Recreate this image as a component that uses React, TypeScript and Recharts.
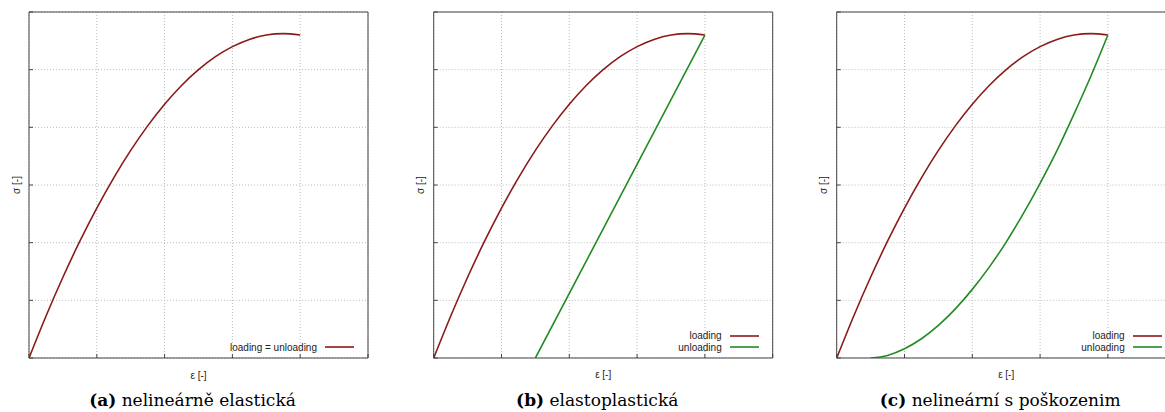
import React from "react";
import { LineChart, Line, XAxis, YAxis, CartesianGrid } from "recharts";

// ticks (gnuplot, no labels)
const xTicks = [0, 1, 2, 3, 4, 5];
const yTicks = [0, 1, 2, 3, 4, 5, 6];

// loading branch, same in all three panels
const loadStrain = [0, 0.25, 0.5, 0.75, 1, 1.25, 1.5, 1.75, 2, 2.25, 2.5, 2.75, 3, 3.25, 3.5, 3.75, 4];
const loadStress = [0, 0.725, 1.4, 2.025, 2.6, 3.125, 3.6, 4.025, 4.4, 4.725, 5.0, 5.225, 5.4, 5.525, 5.6, 5.625, 5.6];

// (b) elastoplastic unloading
const unloadStrainB = [1.5, 4];
const unloadStressB = [0, 5.6];

// (c) damage unloading
const unloadStrainC = [0.5, 0.75, 1, 1.25, 1.5, 1.75, 2, 2.25, 2.5, 2.75, 3, 3.25, 3.5, 3.75, 4];
const unloadStressC = [0, 0.045, 0.16, 0.334, 0.566, 0.851, 1.19, 1.576, 2.01, 2.5, 3.03, 3.6, 4.23, 4.89, 5.6];

const RED = "#8b1a1a";
const GREEN = "#228b22";
const AXIS = "#444";

const toPoints = (xs: number[], ys: number[]) => xs.map((e, i) => ({ e, s: ys[i] }));

const loading = toPoints(loadStrain, loadStress);
const unloadingB = toPoints(unloadStrainB, unloadStressB);
const unloadingC = toPoints(unloadStrainC, unloadStressC);

type Series = { name: string; data: { e: number; s: number }[]; color: string; curve: "monotone" | "linear" };

const PLOT_W = 337;
const PLOT_H = 344;
const TOP = 13;
const LABEL_FONT = "'Liberation Sans', Arial, sans-serif";

// tick lines only, no tick labels
const noLabel = () => <g />;

function yLabel(props: any) {
  const vb = props.viewBox || {};
  const x = vb.x - 13;
  const y = vb.y + vb.height / 2;
  return (
    <text
      x={x}
      y={y}
      transform={`rotate(-90, ${x}, ${y})`}
      textAnchor="middle"
      dominantBaseline="central"
      fontSize={10}
      fontFamily={LABEL_FONT}
      fill="#222"
    >
      σ [-]
    </text>
  );
}

function xLabel(props: any) {
  const vb = props.viewBox || {};
  return (
    <text
      x={vb.x + vb.width / 2}
      y={vb.y + 18}
      textAnchor="middle"
      dominantBaseline="central"
      fontSize={10}
      fontFamily={LABEL_FONT}
      fill="#222"
    >
      ε [-]
    </text>
  );
}

function Panel({
  left,
  plotLeft,
  tag,
  caption,
  series,
  legend,
}: {
  left: number;
  plotLeft: number;
  tag: string;
  caption: string;
  series: Series[];
  legend: string[];
}) {
  const width = plotLeft + PLOT_W + 12;
  const plotRight = plotLeft + PLOT_W;
  const plotBottom = TOP + PLOT_H;
  return (
    <div style={{ position: "absolute", left, top: 0, width, height: 412 }}>
      <LineChart
        width={width}
        height={412}
        margin={{ top: TOP - 1, right: 11, bottom: 412 - plotBottom - 1, left: plotLeft - 1 }}
      >
        <CartesianGrid
          stroke="#bdbdbd"
          strokeDasharray="1 2"
          verticalValues={xTicks}
          horizontalValues={yTicks}
        />
        <XAxis
          dataKey="e"
          type="number"
          domain={[0, 5]}
          ticks={xTicks}
          interval={0}
          tick={noLabel}
          tickSize={4}
          mirror
          height={1}
          stroke={AXIS}
          allowDataOverflow
          label={xLabel}
        />
        <XAxis
          xAxisId="top"
          orientation="top"
          type="number"
          domain={[0, 5]}
          ticks={xTicks}
          interval={0}
          tick={noLabel}
          tickSize={4}
          mirror
          height={1}
          stroke={AXIS}
        />
        <YAxis
          type="number"
          domain={[0, 6]}
          ticks={yTicks}
          interval={0}
          tick={noLabel}
          tickSize={4}
          mirror
          width={1}
          stroke={AXIS}
          allowDataOverflow
          label={yLabel}
        />
        <YAxis
          yAxisId="right"
          orientation="right"
          type="number"
          domain={[0, 6]}
          ticks={yTicks}
          interval={0}
          tick={noLabel}
          tickSize={4}
          mirror
          width={1}
          stroke={AXIS}
        />
        {series.map((s) => (
          <Line
            key={s.name}
            data={s.data}
            dataKey="s"
            name={s.name}
            type={s.curve}
            stroke={s.color}
            strokeWidth={1.6}
            dot={false}
            activeDot={false}
            isAnimationActive={false}
          />
        ))}
      </LineChart>
      {/* key, gnuplot style: text then sample line, bottom right */}
      <div
        style={{
          position: "absolute",
          right: width - plotRight + 12,
          top: plotBottom - 10 - 11.6 * legend.length + 11.6 / 2 + 0.5,
          fontFamily: LABEL_FONT,
          fontSize: 10,
          color: "#222",
        }}
      >
        {legend.map((name) => {
          const s = series.find((x) => x.name === name) || series[0];
          return (
            <div key={name} style={{ display: "flex", alignItems: "center", justifyContent: "flex-end", height: 11.6 }}>
              <span style={{ whiteSpace: "nowrap" }}>{name}</span>
              <svg width={34} height={6} style={{ marginLeft: 4 }}>
                <line x1={4} y1={3} x2={33} y2={3} stroke={s.color} strokeWidth={1.6} />
              </svg>
            </div>
          );
        })}
      </div>
      <div
        style={{
          position: "absolute",
          left: plotLeft + PLOT_W / 2 - 6 - 200,
          width: 400,
          top: 390,
          textAlign: "center",
          fontFamily: "'DejaVu Serif', serif",
          fontSize: 17,
          lineHeight: "20px",
          color: "#000",
          whiteSpace: "nowrap",
        }}
      >
        <b>({tag})</b> {caption}
      </div>
    </div>
  );
}

export default function App() {
  return (
    <div
      style={{
        position: "absolute",
        left: 0,
        top: 0,
        width: 1165,
        height: 412,
        overflow: "hidden",
        background: "#fff",
      }}
    >
      <Panel
        left={0}
        plotLeft={30}
        tag="a"
        caption="nelineárně elastická"
        series={[{ name: "loading = unloading", data: loading, color: RED, curve: "monotone" }]}
        legend={["loading = unloading"]}
      />
      <Panel
        left={400}
        plotLeft={34.7}
        tag="b"
        caption="elastoplastická"
        series={[
          { name: "loading", data: loading, color: RED, curve: "monotone" },
          { name: "unloading", data: unloadingB, color: GREEN, curve: "linear" },
        ]}
        legend={["loading", "unloading"]}
      />
      <Panel
        left={800}
        plotLeft={37.7}
        tag="c"
        caption="nelineární s poškozenim"
        series={[
          { name: "loading", data: loading, color: RED, curve: "monotone" },
          { name: "unloading", data: unloadingC, color: GREEN, curve: "monotone" },
        ]}
        legend={["loading", "unloading"]}
      />
    </div>
  );
}
